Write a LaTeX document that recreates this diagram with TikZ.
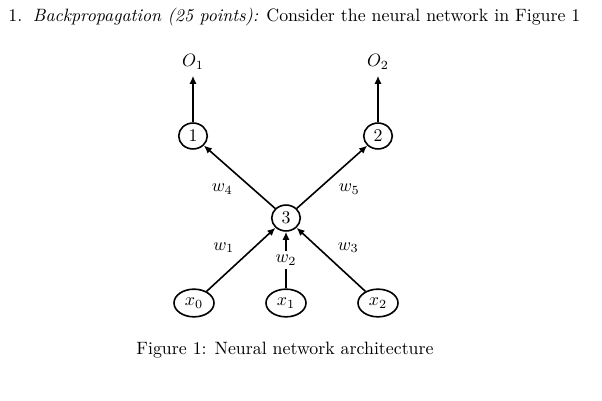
\documentclass[tikz,border=0pt]{standalone}
\usetikzlibrary{arrows.meta,shapes.geometric}
\begin{document}
\begin{tikzpicture}[x=0.56pt, y=-0.56pt,
            unit/.style={ellipse, draw, line width=0.9pt, inner sep=0pt, minimum width=16pt, minimum height=14.5pt},
            inp/.style={ellipse, draw, line width=0.9pt, inner sep=0pt, minimum width=22.4pt, minimum height=15.5pt},
            conn/.style={-{Latex[length=4.5pt,width=4pt]}, line width=0.9pt}]
            \useasboundingbox (0,0) rectangle (602,401);
            \node[anchor=west, inner sep=0pt] (title) at (8,17) {1.\hspace{0.6em}\textit{Backpropagation (25 points):} Consider the neural network in Figure 1};
            \node (o1) at (193,62) {$O_1$};
            \node (o2) at (378,62) {$O_2$};
            \node[unit] (n1) at (193,136) {1};
            \node[unit] (n2) at (378,136) {2};
            \node[unit] (n3) at (286,218) {3};
            \node[inp] (x0) at (194,303) {$x_0$};
            \node[inp] (x1) at (286,303) {$x_1$};
            \node[inp] (x2) at (378,303) {$x_2$};
            \path[conn] (n1) edge (o1)
                        (n2) edge (o2)
                        (n3) edge node[below left] {$w_4$} (n1)
                        (n3) edge node[below right] {$w_5$} (n2)
                        (x0) edge node[above left] {$w_1$} (n3)
                        (x1) edge node[fill=white, inner sep=2pt] {$w_2$} (n3)
                        (x2) edge node[above right] {$w_3$} (n3);
            \node (caption) at (285,350) {Figure 1: Neural network architecture};
        \end{tikzpicture}
\end{document}
